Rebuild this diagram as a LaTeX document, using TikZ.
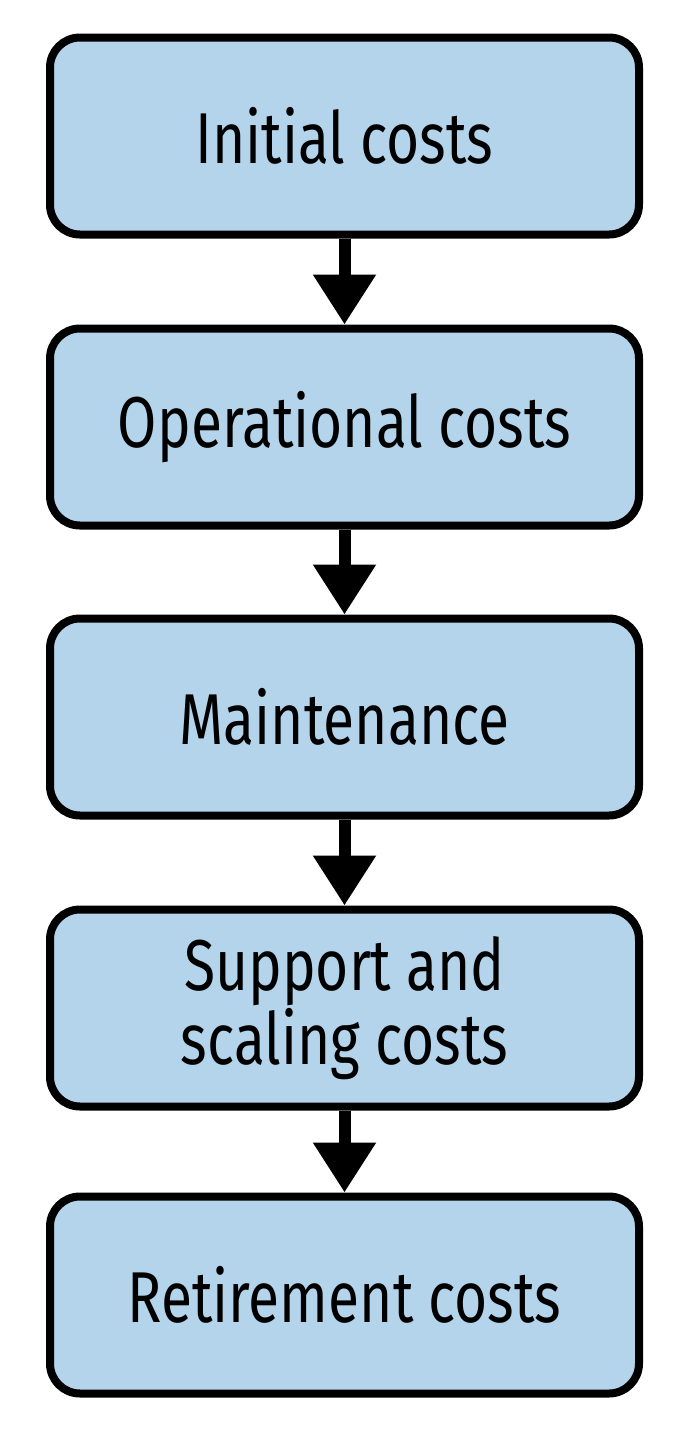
\documentclass[tikz,border=0pt]{standalone}
\usepackage{fontspec}
\setmainfont{Fira Sans}[FakeStretch=0.79]
\usetikzlibrary{arrows.meta}
\definecolor{boxblue}{HTML}{B3D4EA}
\begin{document}
\begin{tikzpicture}[x=0.5pt,y=-0.5pt,
  stagebox/.style={draw=black, fill=boxblue, line width=4pt, rounded corners=15pt,
    minimum width=294.5pt, minimum height=98.5pt, align=center,
    font=\fontsize{36pt}{33.5pt}\selectfont, inner sep=0pt},
  flowarrow/.style={line width=6pt, -{Triangle[width=30pt,length=25pt]}}]
\useasboundingbox (0,0) rectangle (677,1437);
\node[stagebox] (b1) at (344.5,136) {Initial costs};
\node[stagebox] (b2) at (344.5,427) {Operational costs};
\node[stagebox] (b3) at (344.5,717) {Maintenance};
\node[stagebox] (b4) at (344.5,1008) {Support and\\scaling costs};
\node[stagebox] (b5) at (344.5,1295) {Retirement costs};
\draw[flowarrow] (b1.south) -- (b2.north);
\draw[flowarrow] (b2.south) -- (b3.north);
\draw[flowarrow] (b3.south) -- (b4.north);
\draw[flowarrow] (b4.south) -- (b5.north);
\end{tikzpicture}
\end{document}
